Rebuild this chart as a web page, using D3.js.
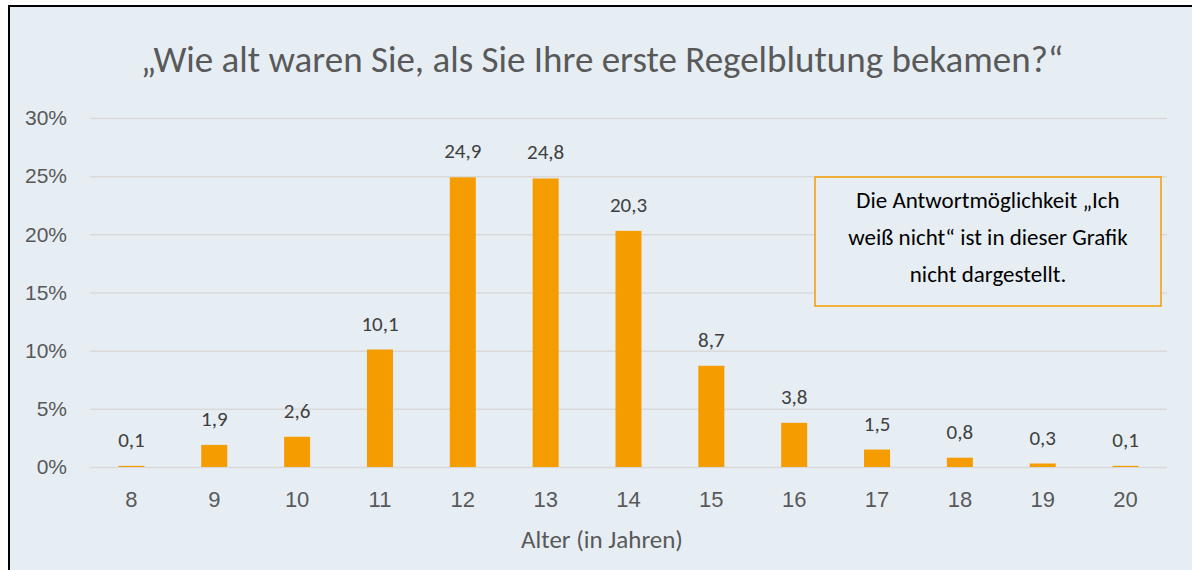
<!DOCTYPE html>
<html>
<head>
<meta charset="utf-8">
<script src="https://cdn.jsdelivr.net/npm/d3@7"></script>
<style>
  body { margin: 0; background: #fff; }
  svg { display: block; font-family: Carlito, Calibri, Lato, sans-serif; }
</style>
</head>
<body>
<svg id="chart" width="1192" height="570"></svg>
<script>
// data
const ages = ["8", "9", "10", "11", "12", "13", "14", "15", "16", "17", "18", "19", "20"];
const shares = [0.1, 1.9, 2.6, 10.1, 24.9, 24.8, 20.3, 8.7, 3.8, 1.5, 0.8, 0.3, 0.1];
const yTicks = [0, 5, 10, 15, 20, 25, 30];
const title = "„Wie alt waren Sie, als Sie Ihre erste Regelblutung bekamen?“";
const xTitle = "Alter (in Jahren)";
const noteLines = ["Die Antwortmöglichkeit „Ich", "weiß nicht“ ist in dieser Grafik", "nicht dargestellt."];

const data = ages.map((a, i) => ({ age: a, value: shares[i] }));

const width = 1192, height = 570;
const margin = { top: 118, right: 25, bottom: 103, left: 90 };

const svg = d3.select("#chart");

// background + black frame (right/bottom edges fall outside the picture)
svg.append("rect")
  .attr("x", 9).attr("y", 6)
  .attr("width", width + 10).attr("height", height + 10)
  .attr("fill", "#e6eef4")
  .attr("stroke", "#000")
  .attr("stroke-width", 2);

const x = d3.scaleBand()
  .domain(ages)
  .range([margin.left, width - margin.right])
  .paddingInner(0.686)
  .paddingOuter(0.343);

const y = d3.scaleLinear()
  .domain([0, 30])
  .range([height - margin.bottom, margin.top]);

// gridlines + y labels
const yAxis = svg.append("g")
  .attr("transform", `translate(${margin.left},0)`)
  .call(d3.axisLeft(y).tickValues(yTicks).tickFormat(d => d + "%")
    .tickSize(-(width - margin.left - margin.right)).tickPadding(23));
yAxis.select(".domain").remove();
yAxis.selectAll(".tick line").attr("stroke", "#d9d9d9").attr("stroke-width", 1.5);
yAxis.selectAll(".tick text")
  .attr("fill", "#595959")
  .style("font-size", "21px");

// x labels
const xAxis = svg.append("g")
  .attr("transform", `translate(0,${y(0)})`)
  .call(d3.axisBottom(x).tickSize(0).tickPadding(24));
xAxis.select(".domain").remove();
xAxis.selectAll(".tick text")
  .attr("fill", "#595959")
  .style("font-size", "22px");

// bars
svg.append("g")
  .attr("fill", "#f59c00")
  .selectAll("rect")
  .data(data)
  .join("rect")
  .attr("x", d => x(d.age))
  .attr("y", d => y(d.value))
  .attr("width", x.bandwidth())
  .attr("height", d => y(0) - y(d.value));

// value labels
svg.append("g")
  .selectAll("text")
  .data(data)
  .join("text")
  .attr("x", d => x(d.age) + x.bandwidth() / 2)
  .attr("y", d => y(d.value) - 19)
  .attr("text-anchor", "middle")
  .attr("fill", "#404040")
  .style("font-size", "21px")
  .text(d => d.value.toFixed(1).replace(".", ","));

// title
svg.append("text")
  .attr("x", 602)
  .attr("y", 72)
  .attr("text-anchor", "middle")
  .attr("fill", "#595959")
  .style("font-size", "37px")
  .text(title);

// x axis title
svg.append("text")
  .attr("x", 602)
  .attr("y", 548)
  .attr("text-anchor", "middle")
  .attr("fill", "#595959")
  .style("font-size", "25px")
  .text(xTitle);

// note box
const note = svg.append("g").attr("transform", "translate(815,177)");
note.append("rect")
  .attr("width", 346).attr("height", 129)
  .attr("fill", "#e6eef4")
  .attr("stroke", "#f59c00")
  .attr("stroke-width", 1.5);
note.selectAll("text")
  .data(noteLines)
  .join("text")
  .attr("x", 173)
  .attr("y", (d, i) => 31 + i * 37)
  .attr("text-anchor", "middle")
  .attr("fill", "#000")
  .style("font-size", "23px")
  .text(d => d);
</script>
</body>
</html>
